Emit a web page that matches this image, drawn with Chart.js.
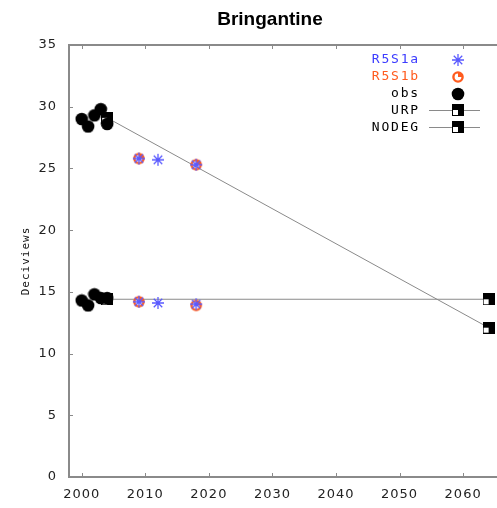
<!DOCTYPE html>
<html>
<head>
<meta charset="utf-8">
<script src="https://cdn.jsdelivr.net/npm/chart.js@4/dist/chart.umd.min.js"></script>
<style>
  html, body { margin: 0; padding: 0; overflow: hidden; background: #fff; }
  #wrap { width: 540px; height: 508px; }
</style>
</head>
<body>
<div id="wrap"><canvas id="visChart" width="540" height="508"></canvas></div>
<script>
// values
const obsYears = [2000, 2001, 2002, 2003, 2004];
const obsWorst = [29.0, 28.4, 29.3, 29.8, 28.6];
const obsBest = [14.3, 13.9, 14.8, 14.5, 14.5];
const r5s1aYears = [2009, 2012, 2018];
const r5s1aWorst = [25.8, 25.7, 25.3];
const r5s1aBest = [14.2, 14.1, 14.0];
const r5s1bYears = [2009, 2018];
const r5s1bWorst = [25.8, 25.3];
const r5s1bBest = [14.2, 13.9];
const glideYears = [2004, 2064];
const urpValues = [29.1, 12.1];
const nodegValues = [14.4, 14.4];
const xTicks = [2000, 2010, 2020, 2030, 2040, 2050, 2060];
const yTicks = [0, 5, 10, 15, 20, 25, 30, 35];

const pts = (xs, ys) => ys.map((v, i) => ({ x: xs[i], y: v }));

// little marker pictures
function marker(size, draw) {
    const c = document.createElement('canvas');
    c.width = c.height = size;
    draw(c.getContext('2d'), size / 2);
    return c;
}
const dotImg = marker(14, (g, m) => {
    g.fillStyle = '#000';
    g.beginPath(); g.arc(m, m, 6.3, 0, Math.PI * 2); g.fill();
});
const starImg = marker(14, (g, m) => {
    g.strokeStyle = '#5a5aff';
    g.lineWidth = 1.3;
    g.beginPath();
    for (let k = 0; k < 4; k++) {
        const a = k * Math.PI / 4;
        g.moveTo(m - 6 * Math.cos(a), m - 6 * Math.sin(a));
        g.lineTo(m + 6 * Math.cos(a), m + 6 * Math.sin(a));
    }
    g.stroke();
});
const pieImg = marker(14, (g, m) => {
    g.strokeStyle = '#ff5b1e';
    g.fillStyle = '#ff5b1e';
    g.lineWidth = 2.4;
    g.beginPath(); g.arc(m, m, 4.6, 0, Math.PI * 2); g.stroke();
    g.beginPath(); g.moveTo(m, m); g.arc(m, m, 4.6, -Math.PI / 2, 0); g.closePath(); g.fill();
});
const squareImg = marker(12, (g) => {
    g.fillStyle = '#000';
    g.fillRect(0, 0, 12, 12);
    g.fillStyle = '#fff';
    g.fillRect(1, 6, 5, 5);
});

// frame with inward ticks, title, legend
const decor = {
    id: 'decor',
    beforeDraw(chart) {
        chart.ctx.letterSpacing = '1px';
    },
    beforeDatasetsDraw(chart) {
        const { ctx, chartArea: a, scales: { x, y } } = chart;
        ctx.save();
        ctx.strokeStyle = '#8a8a8a';
        ctx.lineWidth = 2;
        ctx.beginPath();
        ctx.moveTo(a.right, a.top); ctx.lineTo(a.left, a.top);
        ctx.lineTo(a.left, a.bottom); ctx.lineTo(a.right, a.bottom);
        ctx.stroke();
        ctx.lineWidth = 1;
        ctx.beginPath();
        xTicks.forEach(t => {
            const px = Math.round(x.getPixelForValue(t)) + 0.5;
            ctx.moveTo(px, a.bottom); ctx.lineTo(px, a.bottom - 4);
            ctx.moveTo(px, a.top); ctx.lineTo(px, a.top + 4);
        });
        yTicks.forEach(t => {
            const py = Math.round(y.getPixelForValue(t)) + 0.5;
            ctx.moveTo(a.left, py); ctx.lineTo(a.left + 4, py);
        });
        ctx.stroke();
        ctx.restore();
    },
    afterDraw(chart) {
        const ctx = chart.ctx;
        ctx.save();
        ctx.letterSpacing = '0px';
        ctx.fillStyle = '#000';
        ctx.font = 'bold 19px "Liberation Sans", Arial, sans-serif';
        ctx.textAlign = 'center';
        ctx.textBaseline = 'middle';
        ctx.fillText('Bringantine', chart.width / 2, 20);

        // legend
        ctx.letterSpacing = '1.8px';
        ctx.font = '13px "DejaVu Sans Mono", monospace';
        ctx.textAlign = 'right';
        const textX = 420, symX = 458;
        chart.data.datasets.forEach((ds, i) => {
            const ly = 60 + i * 16.8;
            ctx.fillStyle = ds.legendColor;
            ctx.fillText(ds.label, textX, ly);
            if (ds.showLine) {
                ctx.strokeStyle = '#8a8a8a';
                ctx.lineWidth = 1;
                ctx.beginPath();
                ctx.moveTo(429, Math.round(ly) + 0.5);
                ctx.lineTo(480, Math.round(ly) + 0.5);
                ctx.stroke();
            }
            const img = ds.pointStyle;
            ctx.drawImage(img, Math.round(symX - img.width / 2), Math.round(ly - img.height / 2));
        });
        ctx.restore();
    }
};

const visChart = new Chart(document.getElementById('visChart'), {
    type: 'scatter',
    data: {
        datasets: [
            {
                label: 'R5S1a',
                data: pts(r5s1aYears, r5s1aWorst).concat(pts(r5s1aYears, r5s1aBest)),
                pointStyle: starImg,
                legendColor: '#3c3cff'
            },
            {
                label: 'R5S1b',
                data: pts(r5s1bYears, r5s1bWorst).concat(pts(r5s1bYears, r5s1bBest)),
                pointStyle: pieImg,
                legendColor: '#ff5b1e'
            },
            {
                label: 'obs',
                data: pts(obsYears, obsWorst).concat(pts(obsYears, obsBest)),
                pointStyle: dotImg,
                legendColor: '#000'
            },
            {
                label: 'URP',
                data: pts(glideYears, urpValues),
                showLine: true,
                borderColor: '#8a8a8a',
                borderWidth: 1,
                pointStyle: squareImg,
                legendColor: '#000'
            },
            {
                label: 'NODEG',
                data: pts(glideYears, nodegValues),
                showLine: true,
                borderColor: '#8a8a8a',
                borderWidth: 1,
                pointStyle: squareImg,
                legendColor: '#000'
            }
        ]
    },
    options: {
        responsive: false,
        animation: false,
        devicePixelRatio: 1,
        layout: { padding: { top: 45, right: 26, left: 0, bottom: 0 } },
        plugins: {
            legend: { display: false },
            title: { display: false },
            tooltip: { enabled: false }
        },
        scales: {
            x: {
                type: 'linear',
                min: 1998,
                max: 2068,
                grid: { display: false, drawTicks: false },
                border: { display: false },
                afterBuildTicks: s => { s.ticks = xTicks.map(v => ({ value: v })); },
                afterFit: s => { s.height = 31; },
                ticks: {
                    padding: 10,
                    color: '#222',
                    font: { family: '"DejaVu Sans", sans-serif', size: 13 },
                    callback: v => String(v)
                }
            },
            y: {
                min: 0,
                max: 35,
                grid: { display: false, drawTicks: false },
                border: { display: false },
                afterBuildTicks: s => { s.ticks = yTicks.map(v => ({ value: v })); },
                afterFit: s => { s.width = 69; },
                ticks: {
                    padding: 12,
                    color: '#222',
                    font: { family: '"DejaVu Sans", sans-serif', size: 13 },
                    callback: v => String(v)
                },
                title: {
                    display: true,
                    text: 'Deciviews',
                    color: '#111',
                    padding: { top: 20, bottom: 0 },
                    font: { family: '"DejaVu Sans Mono", monospace', size: 11 }
                }
            }
        }
    },
    plugins: [decor]
});
</script>
</body>
</html>
